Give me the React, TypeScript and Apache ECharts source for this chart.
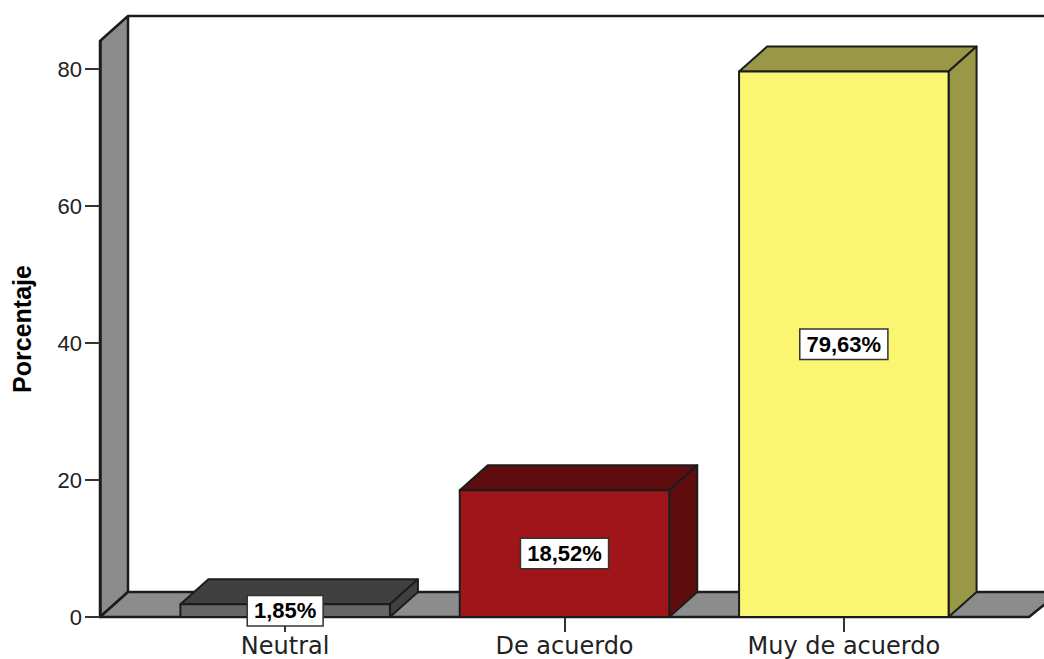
import React, { useEffect, useRef } from "react";
import * as echarts from "echarts";

const categories = ["Neutral", "De acuerdo", "Muy de acuerdo"];
const percentages = [1.85, 18.52, 79.63];
const yTickValues = [0, 20, 40, 60, 80];
const yAxisName = "Porcentaje";

const FONT = '"Liberation Sans", Arial, sans-serif';
const INK = "#1c1c1c";
const WALL = "#8c8c8c";
const DEPTH_X = 28;
const DEPTH_Y = 25;
const faces = [
  { front: "#666666", top: "#404040", side: "#404040" },
  { front: "#a01519", top: "#600d10", side: "#600d10" },
  { front: "#fbf672", top: "#989846", side: "#989846" },
];

const label = (v: number) => `${v.toFixed(2).replace(".", ",")}%`;

function renderBar(params: any, api: any) {
  const i = api.value(0);
  const v = api.value(1);
  const [cx, top] = api.coord([i, v]);
  const [, base] = api.coord([i, 0]);
  const w = api.size([1, 0])[0] * 0.75;
  const l = cx - w / 2;
  const r = cx + w / 2;
  const f = faces[i];
  const line = { stroke: INK, lineWidth: 2, lineJoin: "round" };
  const poly = (points: number[][], fill: string) => ({
    type: "polygon",
    shape: { points },
    style: { fill, ...line },
  });
  return {
    type: "group",
    children: [
      poly([[l, top], [r, top], [r + DEPTH_X, top - DEPTH_Y], [l + DEPTH_X, top - DEPTH_Y]], f.top),
      poly([[r, top], [r + DEPTH_X, top - DEPTH_Y], [r + DEPTH_X, base - DEPTH_Y], [r, base]], f.side),
      poly([[l, top], [r, top], [r, base], [l, base]], f.front),
      {
        type: "text",
        x: cx,
        y: (top + base) / 2,
        style: {
          text: label(v),
          fill: "#000",
          font: `bold 22px ${FONT}`,
          align: "center",
          verticalAlign: "middle",
          backgroundColor: "#ffffff",
          borderColor: "#333333",
          borderWidth: 1.5,
          padding: [4, 6, 3, 6],
        },
      },
    ],
  };
}

export default function App() {
  const ref = useRef<HTMLDivElement>(null);
  useEffect(() => {
    document.body.style.margin = "0";
    const chart = echarts.init(ref.current!, null, { renderer: "svg" });
    const wallLine = { stroke: INK, lineWidth: 2.5, lineJoin: "round" };
    chart.setOption({
      animation: false,
      backgroundColor: "#ffffff",
      grid: { left: 145.5, top: 41, width: 838, height: 576, outerBoundsMode: "none" },
      graphic: [
        {
          type: "polygon",
          z: -1,
          shape: { points: [[100, 41], [128, 16], [128, 592], [100, 617]] },
          style: { fill: WALL, ...wallLine },
        },
        {
          type: "polygon",
          z: -1,
          shape: { points: [[100, 617], [128, 592], [1060, 592], [1029, 617]] },
          style: { fill: WALL, ...wallLine },
        },
        {
          type: "line",
          z: -1,
          shape: { x1: 128, y1: 16, x2: 1044, y2: 16 },
          style: { stroke: INK, lineWidth: 2.5 },
        },
      ],
      xAxis: {
        type: "category",
        data: categories,
        axisLine: { show: false },
        axisTick: { show: true, alignWithLabel: true, length: 15, lineStyle: { color: "#333", width: 2 } },
        axisLabel: {
          margin: 17,
          interval: 0,
          color: "#222",
          fontFamily: '"DejaVu Sans", sans-serif',
          fontSize: 24,
          lineHeight: 24,
        },
      },
      yAxis: {
        type: "value",
        min: 0,
        max: 84.09,
        offset: 45.5,
        name: yAxisName,
        nameLocation: "middle",
        nameGap: 66,
        nameTextStyle: { fontFamily: FONT, fontWeight: "bold", fontSize: 25, color: "#000" },
        splitLine: { show: false },
        axisLine: { show: true, lineStyle: { color: INK, width: 2.5 } },
        axisTick: { show: true, length: 15, customValues: yTickValues, lineStyle: { color: "#333", width: 2 } },
        axisLabel: {
          customValues: yTickValues,
          margin: 18,
          color: "#222",
          fontFamily: FONT,
          fontSize: 22,
        },
      },
      series: [
        {
          type: "custom",
          clip: false,
          renderItem: renderBar,
          encode: { x: 0, y: 1 },
          data: percentages.map((v, i) => [i, v]),
        },
      ],
    });
    return () => chart.dispose();
  }, []);
  return <div ref={ref} style={{ width: 1044, height: 659 }} />;
}
